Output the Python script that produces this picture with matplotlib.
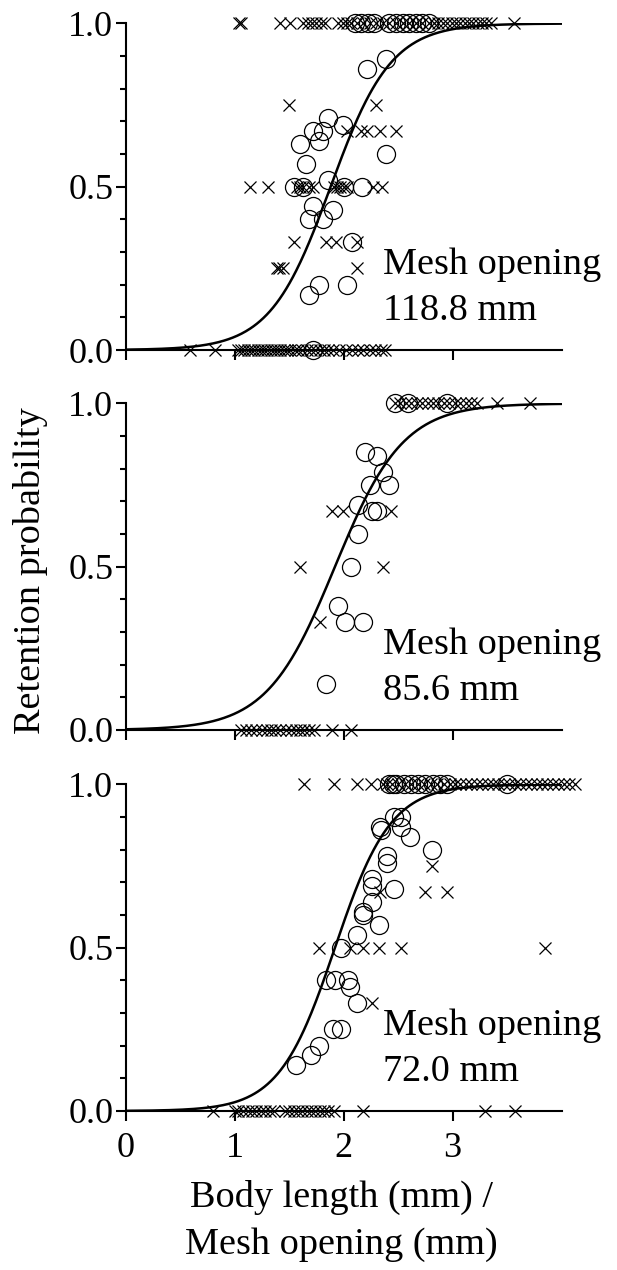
import numpy as np
import matplotlib
matplotlib.use("Agg")
import matplotlib.pyplot as plt
from matplotlib.ticker import MultipleLocator

plt.rcParams['font.family'] = ['Liberation Serif', 'DejaVu Serif']

# fitted logistic retention curves (L50, slope) per mesh size
mesh_labels = ['118.8 mm', '85.6 mm', '72.0 mm']
l50 = [1.88, 1.92, 1.92]
slope = [3.6, 3.2, 3.9]

# ---- 118.8 mm ----
p1_circ_x = [2.10, 2.16, 2.22, 2.28, 2.42, 2.48, 2.54, 2.60, 2.66, 2.72, 2.78,
             2.21, 2.39, 1.86, 1.72, 1.81, 1.77, 1.99, 1.60, 1.65, 2.39, 1.86,
             2.17, 1.54, 1.63, 2.00, 1.72, 1.90, 1.68, 1.81, 2.08, 1.77, 1.68,
             2.03, 1.72]
p1_circ_y = [1.0, 1.0, 1.0, 1.0, 1.0, 1.0, 1.0, 1.0, 1.0, 1.0, 1.0,
             0.86, 0.89, 0.71, 0.67, 0.67, 0.64, 0.69, 0.63, 0.57, 0.60, 0.52,
             0.50, 0.50, 0.50, 0.50, 0.44, 0.43, 0.40, 0.40, 0.33, 0.20, 0.17,
             0.20, 0.0]
p1_x1 = [1.04, 1.06, 1.42, 1.51, 1.63, 1.67, 1.71, 1.75, 1.79, 1.83, 1.95, 1.99,
         2.03, 2.07, 2.12, 2.18, 2.24, 2.30, 2.36, 2.42, 2.48, 2.54, 2.60, 2.66,
         2.72, 2.78, 2.83, 2.87, 2.91, 2.95, 2.99, 3.03, 3.07, 3.11, 3.15, 3.19,
         3.23, 3.27, 3.31, 3.35, 3.56]
p1_x075 = [1.50, 2.30]
p1_x067 = [2.03, 2.16, 2.21, 2.33, 2.48]
p1_x05 = [1.14, 1.31, 1.57, 1.60, 1.63, 1.68, 1.72, 1.91, 1.94, 1.97, 2.00,
          2.03, 2.27, 2.35]
p1_x033 = [1.54, 1.84, 1.93, 2.12]
p1_x025 = [1.39, 1.41, 1.44, 2.12]
p1_x0 = [0.59, 0.82, 1.03, 1.06, 1.09, 1.12, 1.15, 1.18, 1.21, 1.24, 1.27, 1.30,
         1.33, 1.36, 1.39, 1.42, 1.45, 1.48, 1.51, 1.55, 1.58, 1.62, 1.66, 1.70,
         1.74, 1.78, 1.82, 1.86, 1.90, 1.96, 2.02, 2.08, 2.13, 2.18, 2.24, 2.29,
         2.34, 2.38]

# ---- 85.6 mm ----
p2_circ_x = [2.47, 2.59, 2.95, 2.20, 2.31, 2.36, 2.24, 2.42, 2.13, 2.26, 2.31,
             2.13, 2.07, 1.95, 2.01, 2.18, 1.84]
p2_circ_y = [1.0, 1.0, 1.0, 0.85, 0.84, 0.79, 0.75, 0.75, 0.69, 0.67, 0.67,
             0.60, 0.50, 0.38, 0.33, 0.33, 0.14]
p2_x1 = [2.47, 2.52, 2.57, 2.62, 2.67, 2.72, 2.77, 2.82, 2.87, 2.92, 2.97, 3.02,
         3.07, 3.12, 3.17, 3.22, 3.41, 3.71]
p2_x067 = [1.89, 1.99, 2.43]
p2_x05 = [1.60, 2.36]
p2_x033 = [1.78]
p2_x0 = [1.06, 1.10, 1.15, 1.20, 1.25, 1.30, 1.33, 1.37, 1.42, 1.47, 1.52, 1.56,
         1.60, 1.64, 1.68, 1.73, 1.89, 2.07]

# ---- 72.0 mm ----
p3_circ_x = [2.42, 2.45, 2.48, 2.55, 2.62, 2.68, 2.75, 2.82, 2.88, 2.95, 3.50,
             2.53, 2.46, 2.33, 2.34, 2.53, 2.61, 2.81, 2.40, 2.40, 2.26, 2.26,
             2.46, 2.26, 2.18, 2.18, 2.32, 2.12, 1.98, 1.84, 1.92, 2.04, 2.06,
             2.12, 1.90, 1.98, 1.77, 1.70, 1.56]
p3_circ_y = [1.0, 1.0, 1.0, 1.0, 1.0, 1.0, 1.0, 1.0, 1.0, 1.0, 1.0,
             0.90, 0.90, 0.87, 0.86, 0.87, 0.84, 0.80, 0.78, 0.76, 0.71, 0.69,
             0.68, 0.64, 0.61, 0.60, 0.57, 0.54, 0.50, 0.40, 0.40, 0.40, 0.38,
             0.33, 0.25, 0.25, 0.20, 0.17, 0.14]
p3_x1 = [1.64, 1.91, 2.12, 2.25, 2.36, 2.40, 2.44, 2.50, 2.56, 2.62, 2.68, 2.74,
         2.80, 2.86, 2.92, 2.98, 3.02, 3.07, 3.12, 3.17, 3.22, 3.27, 3.32, 3.37,
         3.42, 3.47, 3.52, 3.57, 3.62, 3.67, 3.72, 3.77, 3.82, 3.87, 3.92, 3.97,
         4.02, 4.07, 4.12]
p3_x075 = [2.81]
p3_x067 = [2.33, 2.75, 2.95]
p3_x05 = [1.77, 2.06, 2.18, 2.32, 2.53, 3.85]
p3_x033 = [2.26]
p3_x0 = [0.80, 1.00, 1.03, 1.08, 1.12, 1.16, 1.20, 1.24, 1.28, 1.32, 1.36, 1.46,
         1.50, 1.54, 1.58, 1.62, 1.66, 1.70, 1.74, 1.78, 1.82, 1.86, 1.91, 2.18,
         3.30, 3.57]

circles = [(p1_circ_x, p1_circ_y), (p2_circ_x, p2_circ_y), (p3_circ_x, p3_circ_y)]
crosses = [
    {1.0: p1_x1, 0.75: p1_x075, 0.67: p1_x067, 0.5: p1_x05, 0.33: p1_x033,
     0.25: p1_x025, 0.0: p1_x0},
    {1.0: p2_x1, 0.67: p2_x067, 0.5: p2_x05, 0.33: p2_x033, 0.0: p2_x0},
    {1.0: p3_x1, 0.75: p3_x075, 0.67: p3_x067, 0.5: p3_x05, 0.33: p3_x033,
     0.0: p3_x0},
]

fig = plt.figure(figsize=(6.17, 12.7), dpi=100)
left, width, height = 0.2037, 0.7066, 0.2571
bottoms = [0.7244, 0.4252, 0.1252]

xs = np.linspace(0, 4.0, 400)
for i in range(3):
    ax = fig.add_axes([left, bottoms[i], width, height])
    ax.set_xlim(0, 4.0)
    ax.set_ylim(0, 1.0)

    for yv, xv in crosses[i].items():
        ax.plot(xv, [yv] * len(xv), linestyle='none', marker='x', ms=9,
                mew=0.9, color='black', clip_on=False, zorder=3)
    ax.plot(circles[i][0], circles[i][1], linestyle='none', marker='o', ms=13,
            mfc='none', mec='black', mew=0.9, clip_on=False, zorder=3)

    curve = 1.0 / (1.0 + np.exp(-slope[i] * (xs - l50[i])))
    ax.plot(xs, curve, color='black', lw=1.8, zorder=4)

    ax.text(2.36, 0.26, 'Mesh opening', fontsize=27.5, va='center', ha='left')
    ax.text(2.36, 0.12, mesh_labels[i], fontsize=27.5, va='center', ha='left')

    for s in ['top', 'right']:
        ax.spines[s].set_visible(False)
    for s in ['left', 'bottom']:
        ax.spines[s].set_linewidth(1.5)
    ax.yaxis.set_major_locator(MultipleLocator(0.5))
    ax.yaxis.set_minor_locator(MultipleLocator(0.1))
    ax.set_yticks([0.0, 0.5, 1.0])
    ax.set_yticklabels(['0.0', '0.5', '1.0'])
    ax.set_xticks([0, 1, 2, 3])
    ax.tick_params(axis='both', which='major', length=7, width=1.5,
                   labelsize=26, direction='out')
    ax.tick_params(axis='y', which='minor', length=4, width=1.5, direction='out')
    ax.tick_params(axis='y', which='major', pad=2)
    ax.tick_params(axis='x', which='major', pad=8)
    if i < 2:
        ax.set_xticklabels([])

fig.text(0.049, 0.551, 'Retention probability', rotation=90, fontsize=27.5,
         ha='center', va='center')
fig.text(0.553, 1 - 1197 / 1270, 'Body length (mm) /', fontsize=27.5,
         ha='center', va='center')
fig.text(0.553, 1 - 1245 / 1270, 'Mesh opening (mm)', fontsize=27.5,
         ha='center', va='center')

fig.savefig('out.png', dpi=100)
